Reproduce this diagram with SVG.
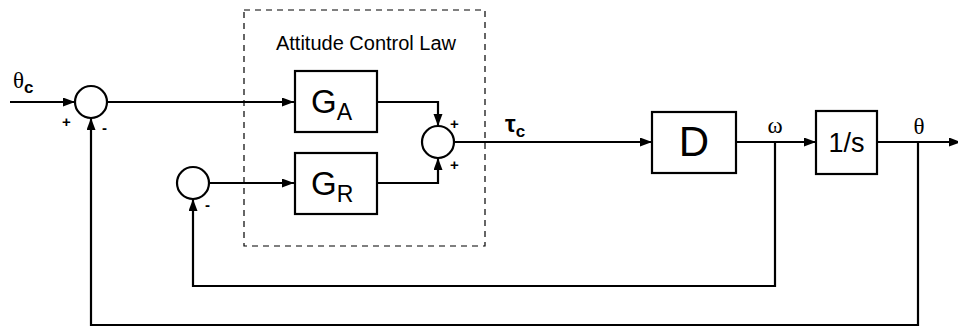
<svg xmlns="http://www.w3.org/2000/svg" width="958" height="329" viewBox="0 0 958 329">
<style>
.blk{fill:#fff;stroke:#000;stroke-width:2.2}
.sum{fill:#fff;stroke:#000;stroke-width:2.2}
.wire{fill:none;stroke:#000;stroke-width:2.2}
.dash{fill:none;stroke:#000;stroke-width:1.2;stroke-dasharray:6,5}
.sans{font-family:"Liberation Sans",Arial,sans-serif;fill:#000}
.serif{font-family:"Liberation Serif","Times New Roman",serif;fill:#000}
.sign{font-family:"Liberation Sans",Arial,sans-serif;font-size:15px;font-weight:bold;fill:#000}
</style>
<defs>
<marker id="ah" markerUnits="userSpaceOnUse" markerWidth="13" markerHeight="10" refX="12" refY="4.5" orient="auto">
<path d="M0,0 L12,4.5 L0,9 z" fill="#000"/>
</marker>
</defs>
<rect width="958" height="329" fill="#fff"/>
<g id="control-law-boundary">
<rect class="dash" x="244" y="10" width="241" height="236"/>
<text class="sans" x="366" y="50" font-size="20" text-anchor="middle">Attitude Control Law</text>
</g>
<g id="connectors">
<path class="wire" d="M10,102 H75" marker-end="url(#ah)"/>
<path class="wire" d="M107,102 H294" marker-end="url(#ah)"/>
<path class="wire" d="M377,102 H438 V126" marker-end="url(#ah)"/>
<path class="wire" d="M377,183 H438 V158" marker-end="url(#ah)"/>
<path class="wire" d="M454,142 H652" marker-end="url(#ah)"/>
<path class="wire" d="M736,142 H816" marker-end="url(#ah)"/>
<path class="wire" d="M877,142 H961" marker-end="url(#ah)"/>
<path class="wire" d="M775,142 V286 H193 V199" marker-end="url(#ah)"/>
<path class="wire" d="M209,183 H294" marker-end="url(#ah)"/>
<path class="wire" d="M918,142 V325 H91 V118" marker-end="url(#ah)"/>
</g>
<g id="sum1">
<circle class="sum" cx="91" cy="102" r="16"/>
<text class="sign" x="62" y="127">+</text>
<text class="sign" x="102" y="133">-</text>
</g>
<g id="sum3">
<circle class="sum" cx="193" cy="183" r="16"/>
<text class="sign" x="205" y="210">-</text>
</g>
<g id="GA">
<rect class="blk" x="295" y="71" width="82" height="61"/>
<text class="sans" x="311" y="113" font-size="33">G<tspan font-size="23" dy="7">A</tspan></text>
</g>
<g id="GR">
<rect class="blk" x="295" y="153" width="82" height="61"/>
<text class="sans" x="311" y="195" font-size="33">G<tspan font-size="23" dy="7">R</tspan></text>
</g>
<g id="sum2">
<circle class="sum" cx="438" cy="142" r="16"/>
<text class="sign" x="450" y="129">+</text>
<text class="sign" x="450" y="170">+</text>
</g>
<g id="D">
<rect class="blk" x="652" y="112" width="84" height="61"/>
<text class="sans" x="694" y="156" font-size="42" text-anchor="middle">D</text>
</g>
<g id="integrator">
<rect class="blk" x="816" y="111" width="61" height="63"/>
<text class="sans" x="846.5" y="152" font-size="27" text-anchor="middle">1/s</text>
</g>
<g id="labels">
<text class="serif" x="13" y="88" font-size="23">θ<tspan class="sans" font-size="17" font-weight="bold" dy="5">c</tspan></text>
<text class="sans" x="505" y="132" font-size="24" font-weight="bold">τ<tspan font-size="17" dy="5">c</tspan></text>
<text class="serif" x="775" y="133" font-size="23" text-anchor="middle">ω</text>
<text class="serif" x="919" y="134" font-size="23" text-anchor="middle">θ</text>
</g>
</svg>
